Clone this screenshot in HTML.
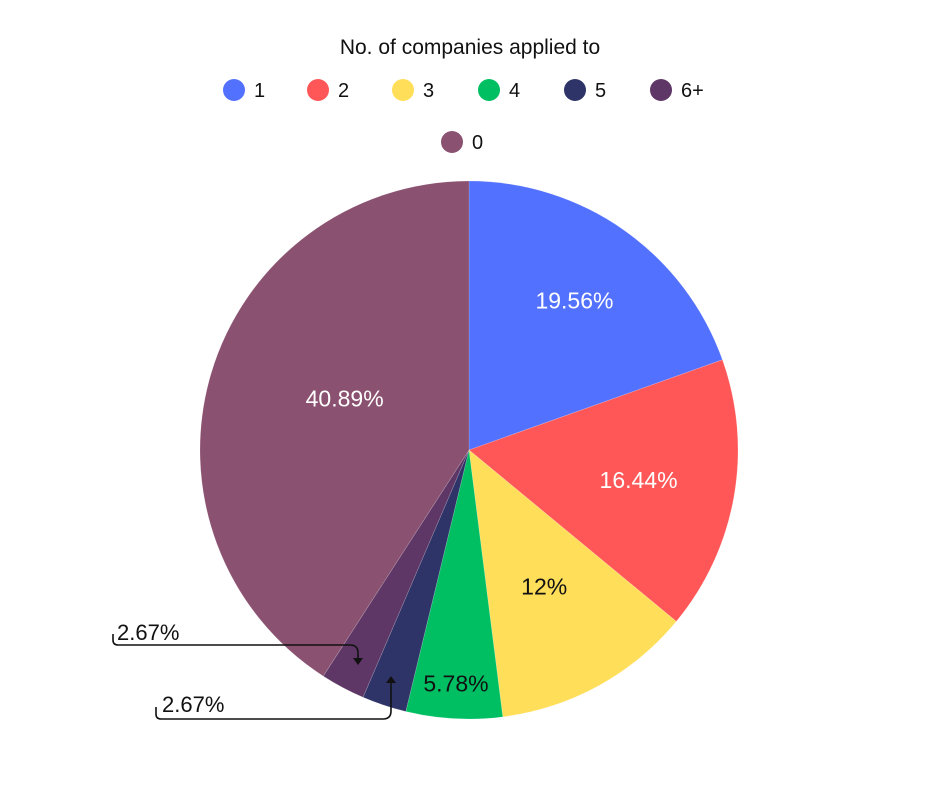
<!DOCTYPE html>
<html><head><meta charset="utf-8"><style>
body{margin:0;background:#fff;width:940px;height:788px;overflow:hidden;font-family:"Liberation Sans",sans-serif}
</style></head><body>
<svg width="940" height="788" viewBox="0 0 940 788">
<text x="470" y="54" text-anchor="middle" font-size="21" fill="#111">No. of companies applied to</text>
<g id="legend"></g>
<g id="slices"></g>
<g id="labels"></g>
<g>
<text x="117" y="640" font-size="22" fill="#111">2.67%</text>
<path d="M113,634 V640 Q113,645 118,645 H350 Q358,645 358,653 V660" fill="none" stroke="#111" stroke-width="1.6"/>
<path d="M353,658 L363,658 L358,665 Z" fill="#111"/>
</g>
<g>
<text x="162" y="712" font-size="22" fill="#111">2.67%</text>
<path d="M156,707 V714 Q156,719 161,719 H383 Q391,719 391,711 V681" fill="none" stroke="#111" stroke-width="1.6"/>
<path d="M386,683 L396,683 L391,676 Z" fill="#111"/>
</g>
</svg>
<script>
const categories=["1","2","3","4","5","6+","0"];
const values=[19.56,16.44,12,5.78,2.67,2.67,40.89];
const labels=["19.56%","16.44%","12%","5.78%","","","40.89%"];
const colors=["#5271ff","#ff5757","#ffde59","#00bf63","#2e3468","#5e3766","#8a5170"];
const labelColors=["#fff","#fff","#111","#111","#fff","#fff","#fff"];
const labelFactor=[0.68,0.64,0.58,0.87,0.6,0.6,0.5];
const labelShift=[0,0,0,0,0,0,6];
const NS="http://www.w3.org/2000/svg";
const cx=469,cy=450,r=269;
const total=values.reduce((a,b)=>a+b,0);
function pt(a,rr){return [cx+rr*Math.sin(a),cy-rr*Math.cos(a)];}
const sg=document.getElementById('slices'),lg=document.getElementById('labels');
let acc=0;
values.forEach((v,i)=>{
 const a0=acc/total*2*Math.PI;acc+=v;const a1=acc/total*2*Math.PI;
 const p0=pt(a0,r),p1=pt(a1,r);
 const p=document.createElementNS(NS,'path');
 p.setAttribute('d',`M${cx},${cy} L${p0[0]},${p0[1]} A${r},${r} 0 ${a1-a0>Math.PI?1:0} 1 ${p1[0]},${p1[1]} Z`);
 p.setAttribute('fill',colors[i]);p.setAttribute('stroke','rgba(255,255,255,0.25)');p.setAttribute('stroke-width','0.6');
 
 
 sg.appendChild(p);
 if(labels[i]){
  const m=(a0+a1)/2+labelShift[i]*Math.PI/180;const q=pt(m,r*labelFactor[i]);
  const t=document.createElementNS(NS,'text');
  t.setAttribute('x',q[0]);t.setAttribute('y',q[1]+8);t.setAttribute('text-anchor','middle');
  t.setAttribute('font-size','23');t.setAttribute('fill',labelColors[i]);t.textContent=labels[i];
  
  
  lg.appendChild(t);
 }
});
const leg=document.getElementById('legend');
const lx=[234,318,403,489,575,661,452],ly=[90,90,90,90,90,90,142];
categories.forEach((c,i)=>{
 const g=document.createElementNS(NS,'g');
 
 
 const ci=document.createElementNS(NS,'circle');
 ci.setAttribute('cx',lx[i]);ci.setAttribute('cy',ly[i]);ci.setAttribute('r',11);ci.setAttribute('fill',colors[i]);
 const t=document.createElementNS(NS,'text');
 t.setAttribute('x',lx[i]+20);t.setAttribute('y',ly[i]+7);t.setAttribute('font-size','20');t.setAttribute('fill','#111');t.textContent=c;
 g.appendChild(ci);g.appendChild(t);leg.appendChild(g);
});
</script>
</body></html>
